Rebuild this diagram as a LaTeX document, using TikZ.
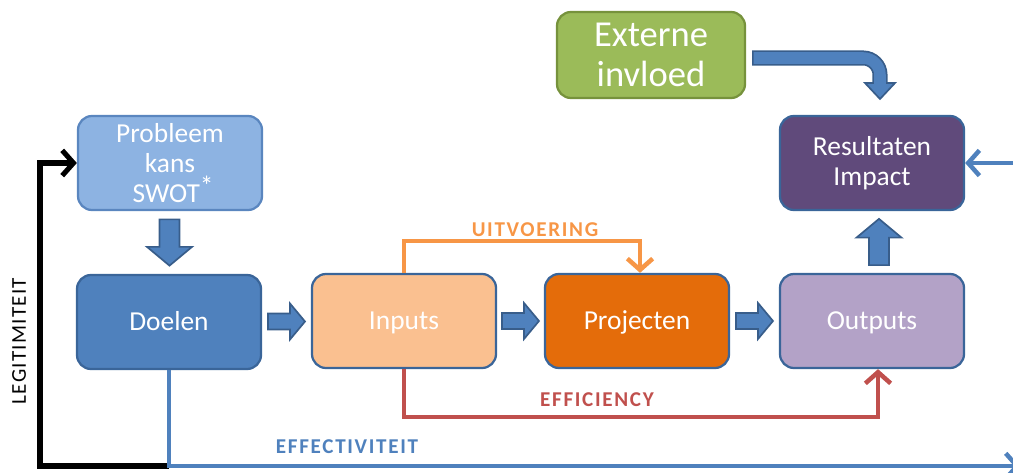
\documentclass[tikz,border=0pt]{standalone}
\usepackage{fontspec}
\setmainfont{Carlito}
\usetikzlibrary{arrows.meta,calc}

\definecolor{probfill}{HTML}{8DB3E2}
\definecolor{probline}{HTML}{5A86BF}
\definecolor{doelfill}{HTML}{4F81BD}
\definecolor{boxline}{HTML}{3A6599}
\definecolor{inputfill}{HTML}{FAC090}
\definecolor{projfill}{HTML}{E46C0A}
\definecolor{outfill}{HTML}{B3A2C7}
\definecolor{resfill}{HTML}{604A7B}
\definecolor{extfill}{HTML}{9BBB59}
\definecolor{extline}{HTML}{76923C}
\definecolor{arrowfill}{HTML}{4F81BD}
\definecolor{arrowline}{HTML}{385D8A}
\definecolor{uitvcol}{HTML}{F79646}
\definecolor{efficol}{HTML}{C0504D}
\definecolor{effecol}{HTML}{4F81BD}

\tikzset{
  box/.style={draw=boxline, line width=1.6pt, rounded corners=10pt,
    minimum width=4.6cm, minimum height=2.35cm, align=center, text=white,
    font=\fontsize{19.5}{21.3}\selectfont},
  oneline/.style={text height=12.6pt, text depth=0pt},
  flow/.style={line width=3.2pt, -{Straight Barb[length=8pt,width=18pt]}},
  lbl/.style={font=\fontsize{15}{18}\selectfont\bfseries\addfontfeature{LetterSpace=8}},
  fatarrow/.pic={
    \filldraw[fill=arrowfill, draw=arrowline, line width=1.2pt]
      (-18.5,-8) -- (3.5,-8) -- (3.5,-18) -- (18.5,0) -- (3.5,18)
      -- (3.5,8) -- (-18.5,8) -- cycle;
  }
}

\begin{document}
\begin{tikzpicture}[x=0.025cm, y=-0.025cm]
  \useasboundingbox (0,0) rectangle (1013,473);

  % boxes
  \node[box, fill=probfill, draw=probline] (probleem) at (170,163) {Probleem\\kans\\\ SWOT\raisebox{5pt}{*}};
  \node[box, oneline, fill=doelfill] (doelen) at (169,322) {Doelen};
  \node[box, oneline, fill=inputfill] (inputs) at (404,321) {Inputs};
  \node[box, oneline, fill=projfill] (projecten) at (637,321) {Projecten};
  \node[box, oneline, fill=outfill] (outputs) at (872,321) {Outputs};
  \node[box, fill=resfill] (resultaten) at (872,163) {Resultaten\\Impact};
  \node[box, fill=extfill, draw=extline, minimum width=4.7cm, minimum height=2.15cm,
    font=\fontsize{26}{28.5}\selectfont] (externe) at (651,55) {Externe\\invloed};

  % fat arrows
  \pic[rotate=-90, scale=1.25] at ($(probleem.south)!.5!(doelen.north)$) {fatarrow};
  \pic at ($(doelen.east)!.5!(inputs.west)$) {fatarrow};
  \pic at ($(inputs.east)!.5!(projecten.west)$) {fatarrow};
  \pic at ($(projecten.east)!.5!(outputs.west)$) {fatarrow};
  \pic[rotate=90, scale=1.25] at ($(outputs.north)!.5!(resultaten.south)+(7,0)$) {fatarrow};

  % bent arrow from externe
  \coordinate (extout) at ($(externe.east)+(6,3)$);
  \coordinate (extbend) at (880,58);
  \coordinate (extneck) at (880,84);
  \draw[line width=10.7pt, draw=arrowline, rounded corners=12pt] (extout) -- (extbend) -- (extneck);
  \filldraw[fill=arrowfill, draw=arrowline, line width=1.2pt]
    ($(extneck)+(-15,-1)$) -- ($(extneck)+(15,-1)$) -- ($(extneck)+(0,15)$) -- cycle;
  \draw[line width=8.2pt, draw=arrowfill, rounded corners=12pt]
    ($(extout)+(1.5,0)$) -- (extbend) -- ($(extneck)+(0,1.5)$);

  % thin connectors
  \coordinate (effend) at (1020,466);
  \coordinate (legcorner) at (40,163);
  \coordinate (resin) at (1020,163);
  \draw[flow, draw=black, line width=3.6pt] (doelen.south |- effend) -| (legcorner) -- (probleem.west);
  \draw[flow, draw=effecol] (doelen.south) |- (effend);
  \draw[flow, draw=uitvcol] (inputs.north) -- ++(0,-32) -| ($(projecten.north)+(3,0)$);
  \draw[flow, draw=efficol] (inputs.south) -- ++(0,48) -| ($(outputs.south)+(6,0)$);
  \draw[flow, draw=effecol] (resin) -- (resultaten.east);

  % labels
  \node[lbl, text=uitvcol] (uitvlbl) at (535,230) {UITVOERING};
  \node[lbl, text=efficol] (efficlbl) at (597,400) {EFFICIENCY};
  \node[lbl, text=effecol] (effeclbl) at (347,447) {EFFECTIVITEIT};
  \node[font=\fontsize{15}{18}\selectfont\addfontfeature{LetterSpace=6}, rotate=90] (legitlbl) at (19,341) {LEGITIMITEIT};
\end{tikzpicture}
\end{document}
